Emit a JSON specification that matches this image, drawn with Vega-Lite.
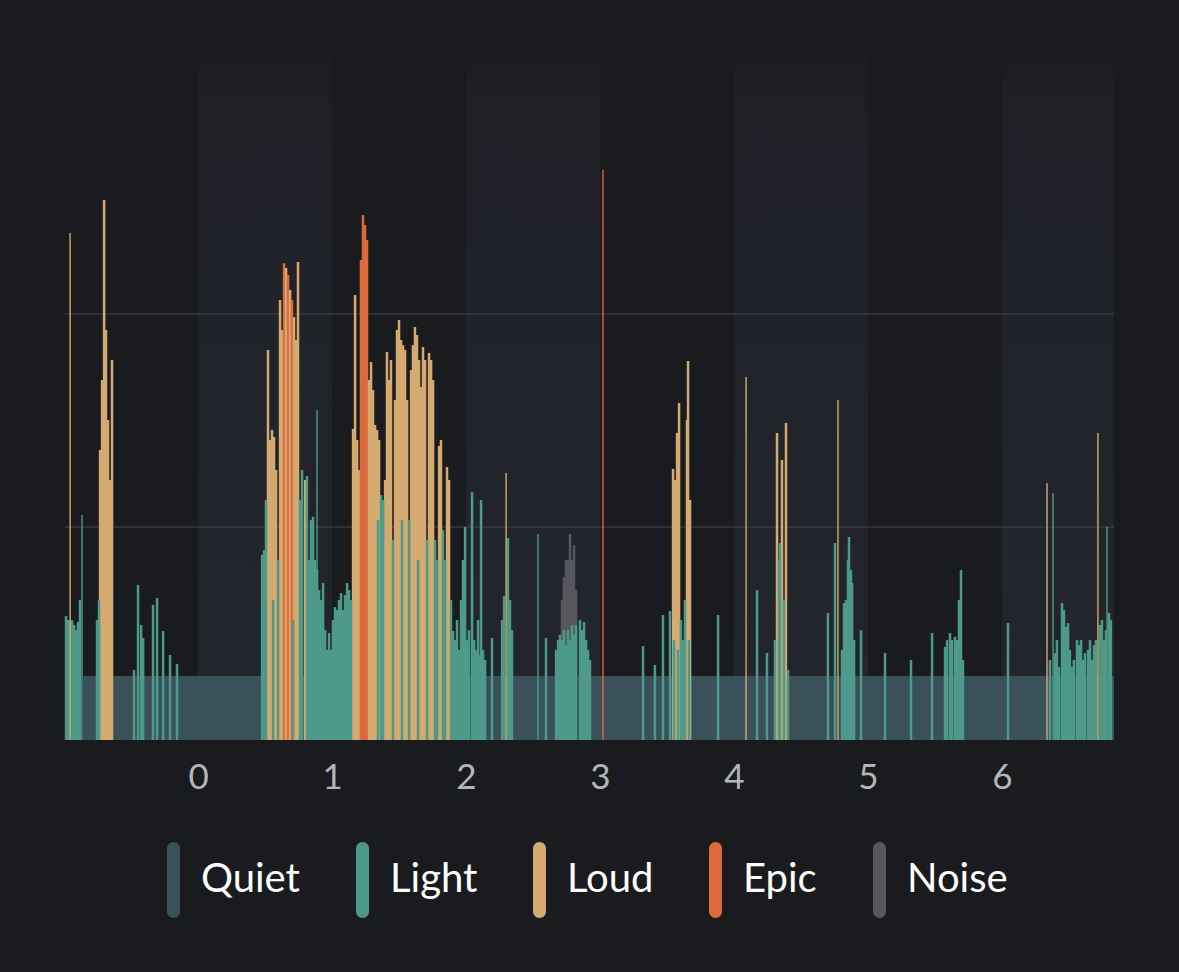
{
  "$schema": "https://vega.github.io/schema/vega-lite/v6.json",
  "width": 1049,
  "height": 702,
  "autosize": {"type": "none"},
  "padding": {"left": 65, "top": 38, "right": 65, "bottom": 232},
  "background": "#1a1b1f",
  "config": {"view": {"stroke": null}, "scale": {"continuousPadding": 0}},
  "datasets": {
    "bands": [
      {"b0": 0, "b1": 1}, {"b0": 2, "b1": 3}, {"b0": 4, "b1": 5}, {"b0": 6, "b1": 6.836}
    ],
    "grid": [{"g": 1}, {"g": 2}],
    "quiet": [{"t0": -0.858, "t1": 6.836, "v": 0.30}],
    "spikes": [
      {"t": -0.955, "v": 2.380, "c": "Loud"},
      {"t": 2.299, "v": 1.254, "c": "Loud"},
      {"t": 4.090, "v": 1.704, "c": "Loud"},
      {"t": 4.776, "v": 1.596, "c": "Loud"},
      {"t": 6.336, "v": 1.207, "c": "Loud"},
      {"t": 6.716, "v": 1.441, "c": "Loud"},
      {"t": 3.022, "v": 2.676, "c": "Epic"},
      {"t": 0.888, "v": 1.549, "c": "Light"},
      {"t": 6.381, "v": 1.160, "c": "Light"},
      {"t": 6.784, "v": 1.000, "c": "Light"},
      {"t": -0.866, "v": 1.056, "c": "Light"},
      {"t": 2.537, "v": 0.967, "c": "Light"}
    ],
    "bars": [
      {"t": -0.731, "v": 1.362, "c": "Loud"},
      {"t": -0.716, "v": 1.690, "c": "Loud"},
      {"t": -0.701, "v": 2.535, "c": "Loud"},
      {"t": -0.687, "v": 1.925, "c": "Loud"},
      {"t": -0.672, "v": 1.502, "c": "Loud"},
      {"t": -0.657, "v": 1.221, "c": "Loud"},
      {"t": -0.642, "v": 1.784, "c": "Loud"},
      {"t": 0.522, "v": 1.831, "c": "Loud"},
      {"t": 0.537, "v": 1.408, "c": "Loud"},
      {"t": 0.552, "v": 1.455, "c": "Loud"},
      {"t": 0.567, "v": 1.423, "c": "Loud"},
      {"t": 0.582, "v": 1.268, "c": "Loud"},
      {"t": 0.612, "v": 2.066, "c": "Loud"},
      {"t": 0.627, "v": 1.925, "c": "Loud"},
      {"t": 0.642, "v": 2.239, "c": "Epic"},
      {"t": 0.657, "v": 2.216, "c": "Loud"},
      {"t": 0.672, "v": 2.183, "c": "Epic"},
      {"t": 0.687, "v": 2.113, "c": "Loud"},
      {"t": 0.701, "v": 2.066, "c": "Epic"},
      {"t": 0.716, "v": 1.986, "c": "Loud"},
      {"t": 0.731, "v": 1.878, "c": "Loud"},
      {"t": 0.746, "v": 2.244, "c": "Loud"},
      {"t": 0.799, "v": 1.221, "c": "Loud"},
      {"t": 1.157, "v": 1.460, "c": "Loud"},
      {"t": 1.172, "v": 2.089, "c": "Loud"},
      {"t": 1.187, "v": 1.408, "c": "Loud"},
      {"t": 1.201, "v": 1.268, "c": "Loud"},
      {"t": 1.216, "v": 2.254, "c": "Epic"},
      {"t": 1.231, "v": 2.465, "c": "Epic"},
      {"t": 1.246, "v": 2.418, "c": "Epic"},
      {"t": 1.261, "v": 2.347, "c": "Epic"},
      {"t": 1.276, "v": 1.690, "c": "Loud"},
      {"t": 1.291, "v": 1.775, "c": "Loud"},
      {"t": 1.306, "v": 1.643, "c": "Loud"},
      {"t": 1.321, "v": 1.479, "c": "Loud"},
      {"t": 1.336, "v": 1.455, "c": "Loud"},
      {"t": 1.351, "v": 1.408, "c": "Loud"},
      {"t": 1.396, "v": 1.221, "c": "Loud"},
      {"t": 1.410, "v": 1.822, "c": "Loud"},
      {"t": 1.425, "v": 1.690, "c": "Loud"},
      {"t": 1.440, "v": 1.784, "c": "Loud"},
      {"t": 1.470, "v": 1.596, "c": "Loud"},
      {"t": 1.485, "v": 1.925, "c": "Loud"},
      {"t": 1.500, "v": 1.972, "c": "Loud"},
      {"t": 1.515, "v": 1.878, "c": "Loud"},
      {"t": 1.530, "v": 1.854, "c": "Loud"},
      {"t": 1.545, "v": 1.831, "c": "Loud"},
      {"t": 1.560, "v": 1.596, "c": "Loud"},
      {"t": 1.590, "v": 1.737, "c": "Loud"},
      {"t": 1.604, "v": 1.854, "c": "Loud"},
      {"t": 1.619, "v": 1.939, "c": "Loud"},
      {"t": 1.634, "v": 1.901, "c": "Loud"},
      {"t": 1.649, "v": 1.784, "c": "Loud"},
      {"t": 1.664, "v": 1.657, "c": "Loud"},
      {"t": 1.679, "v": 1.845, "c": "Loud"},
      {"t": 1.694, "v": 1.784, "c": "Loud"},
      {"t": 1.724, "v": 1.817, "c": "Loud"},
      {"t": 1.739, "v": 1.784, "c": "Loud"},
      {"t": 1.754, "v": 1.690, "c": "Loud"},
      {"t": 1.799, "v": 1.380, "c": "Loud"},
      {"t": 1.813, "v": 1.408, "c": "Loud"},
      {"t": 1.858, "v": 1.282, "c": "Loud"},
      {"t": 1.873, "v": 1.221, "c": "Loud"},
      {"t": 2.716, "v": 0.657, "c": "Noise"},
      {"t": 2.731, "v": 0.765, "c": "Noise"},
      {"t": 2.746, "v": 0.845, "c": "Noise"},
      {"t": 2.761, "v": 0.845, "c": "Noise"},
      {"t": 2.776, "v": 0.967, "c": "Noise"},
      {"t": 2.791, "v": 0.845, "c": "Noise"},
      {"t": 2.806, "v": 0.915, "c": "Noise"},
      {"t": 2.821, "v": 0.704, "c": "Noise"},
      {"t": 3.545, "v": 1.272, "c": "Loud"},
      {"t": 3.560, "v": 1.221, "c": "Loud"},
      {"t": 3.575, "v": 1.441, "c": "Loud"},
      {"t": 3.590, "v": 1.582, "c": "Loud"},
      {"t": 3.649, "v": 1.502, "c": "Loud"},
      {"t": 3.657, "v": 1.779, "c": "Loud"},
      {"t": 3.672, "v": 1.127, "c": "Loud"},
      {"t": 4.321, "v": 1.441, "c": "Loud"},
      {"t": 4.358, "v": 1.315, "c": "Loud"},
      {"t": 4.388, "v": 1.488, "c": "Loud"},
      {"t": -0.985, "v": 0.582, "c": "Light"},
      {"t": -0.970, "v": 0.563, "c": "Light"},
      {"t": -0.955, "v": 0.560, "c": "Light"},
      {"t": -0.940, "v": 0.563, "c": "Light"},
      {"t": -0.925, "v": 0.540, "c": "Light"},
      {"t": -0.910, "v": 0.516, "c": "Light"},
      {"t": -0.896, "v": 0.554, "c": "Light"},
      {"t": -0.881, "v": 0.657, "c": "Light"},
      {"t": -0.754, "v": 0.563, "c": "Light"},
      {"t": -0.739, "v": 0.657, "c": "Light"},
      {"t": -0.478, "v": 0.329, "c": "Light"},
      {"t": -0.448, "v": 0.728, "c": "Light"},
      {"t": -0.425, "v": 0.540, "c": "Light"},
      {"t": -0.410, "v": 0.479, "c": "Light"},
      {"t": -0.336, "v": 0.634, "c": "Light"},
      {"t": -0.306, "v": 0.667, "c": "Light"},
      {"t": -0.261, "v": 0.512, "c": "Light"},
      {"t": -0.209, "v": 0.399, "c": "Light"},
      {"t": -0.157, "v": 0.357, "c": "Light"},
      {"t": 0.478, "v": 0.869, "c": "Light"},
      {"t": 0.493, "v": 0.892, "c": "Light"},
      {"t": 0.507, "v": 1.127, "c": "Light"},
      {"t": 0.560, "v": 0.657, "c": "Light"},
      {"t": 0.597, "v": 0.845, "c": "Light"},
      {"t": 0.709, "v": 0.563, "c": "Light"},
      {"t": 0.761, "v": 1.127, "c": "Light"},
      {"t": 0.776, "v": 1.268, "c": "Light"},
      {"t": 0.813, "v": 1.239, "c": "Light"},
      {"t": 0.828, "v": 0.845, "c": "Light"},
      {"t": 0.843, "v": 1.033, "c": "Light"},
      {"t": 0.858, "v": 1.047, "c": "Light"},
      {"t": 0.873, "v": 0.845, "c": "Light"},
      {"t": 0.888, "v": 0.800, "c": "Light"},
      {"t": 0.903, "v": 0.704, "c": "Light"},
      {"t": 0.918, "v": 0.657, "c": "Light"},
      {"t": 0.933, "v": 0.737, "c": "Light"},
      {"t": 0.948, "v": 0.516, "c": "Light"},
      {"t": 0.963, "v": 0.423, "c": "Light"},
      {"t": 0.978, "v": 0.502, "c": "Light"},
      {"t": 0.993, "v": 0.423, "c": "Light"},
      {"t": 1.007, "v": 0.563, "c": "Light"},
      {"t": 1.022, "v": 0.624, "c": "Light"},
      {"t": 1.037, "v": 0.610, "c": "Light"},
      {"t": 1.052, "v": 0.657, "c": "Light"},
      {"t": 1.067, "v": 0.690, "c": "Light"},
      {"t": 1.082, "v": 0.610, "c": "Light"},
      {"t": 1.097, "v": 0.681, "c": "Light"},
      {"t": 1.112, "v": 0.737, "c": "Light"},
      {"t": 1.127, "v": 0.704, "c": "Light"},
      {"t": 1.142, "v": 0.657, "c": "Light"},
      {"t": 1.343, "v": 1.033, "c": "Light"},
      {"t": 1.366, "v": 1.150, "c": "Light"},
      {"t": 1.381, "v": 1.127, "c": "Light"},
      {"t": 1.455, "v": 0.939, "c": "Light"},
      {"t": 1.522, "v": 1.033, "c": "Light"},
      {"t": 1.575, "v": 1.033, "c": "Light"},
      {"t": 1.642, "v": 0.845, "c": "Light"},
      {"t": 1.709, "v": 0.939, "c": "Light"},
      {"t": 1.769, "v": 0.939, "c": "Light"},
      {"t": 1.784, "v": 0.845, "c": "Light"},
      {"t": 1.828, "v": 0.986, "c": "Light"},
      {"t": 1.843, "v": 0.845, "c": "Light"},
      {"t": 1.888, "v": 0.657, "c": "Light"},
      {"t": 1.903, "v": 0.512, "c": "Light"},
      {"t": 1.918, "v": 0.469, "c": "Light"},
      {"t": 1.933, "v": 0.563, "c": "Light"},
      {"t": 1.948, "v": 0.423, "c": "Light"},
      {"t": 1.963, "v": 0.657, "c": "Light"},
      {"t": 1.978, "v": 0.845, "c": "Light"},
      {"t": 1.993, "v": 1.000, "c": "Light"},
      {"t": 2.007, "v": 0.469, "c": "Light"},
      {"t": 2.022, "v": 0.516, "c": "Light"},
      {"t": 2.045, "v": 1.164, "c": "Light"},
      {"t": 2.060, "v": 0.469, "c": "Light"},
      {"t": 2.075, "v": 0.423, "c": "Light"},
      {"t": 2.090, "v": 0.563, "c": "Light"},
      {"t": 2.104, "v": 0.399, "c": "Light"},
      {"t": 2.112, "v": 1.127, "c": "Light"},
      {"t": 2.127, "v": 0.423, "c": "Light"},
      {"t": 2.142, "v": 0.376, "c": "Light"},
      {"t": 2.194, "v": 0.479, "c": "Light"},
      {"t": 2.269, "v": 0.563, "c": "Light"},
      {"t": 2.284, "v": 0.676, "c": "Light"},
      {"t": 2.313, "v": 0.948, "c": "Light"},
      {"t": 2.328, "v": 0.657, "c": "Light"},
      {"t": 2.343, "v": 0.516, "c": "Light"},
      {"t": 2.597, "v": 0.479, "c": "Light"},
      {"t": 2.672, "v": 0.423, "c": "Light"},
      {"t": 2.687, "v": 0.469, "c": "Light"},
      {"t": 2.701, "v": 0.493, "c": "Light"},
      {"t": 2.716, "v": 0.469, "c": "Light"},
      {"t": 2.731, "v": 0.516, "c": "Light"},
      {"t": 2.746, "v": 0.446, "c": "Light"},
      {"t": 2.761, "v": 0.516, "c": "Light"},
      {"t": 2.776, "v": 0.469, "c": "Light"},
      {"t": 2.791, "v": 0.540, "c": "Light"},
      {"t": 2.806, "v": 0.493, "c": "Light"},
      {"t": 2.821, "v": 0.540, "c": "Light"},
      {"t": 2.851, "v": 0.563, "c": "Light"},
      {"t": 2.866, "v": 0.516, "c": "Light"},
      {"t": 2.881, "v": 0.554, "c": "Light"},
      {"t": 2.896, "v": 0.469, "c": "Light"},
      {"t": 2.910, "v": 0.423, "c": "Light"},
      {"t": 2.925, "v": 0.376, "c": "Light"},
      {"t": 3.321, "v": 0.441, "c": "Light"},
      {"t": 3.410, "v": 0.352, "c": "Light"},
      {"t": 3.470, "v": 0.587, "c": "Light"},
      {"t": 3.522, "v": 0.606, "c": "Light"},
      {"t": 3.552, "v": 0.469, "c": "Light"},
      {"t": 3.582, "v": 0.423, "c": "Light"},
      {"t": 3.604, "v": 0.563, "c": "Light"},
      {"t": 3.619, "v": 0.469, "c": "Light"},
      {"t": 3.634, "v": 0.657, "c": "Light"},
      {"t": 3.664, "v": 0.469, "c": "Light"},
      {"t": 3.881, "v": 0.587, "c": "Light"},
      {"t": 4.172, "v": 0.704, "c": "Light"},
      {"t": 4.246, "v": 0.408, "c": "Light"},
      {"t": 4.306, "v": 0.469, "c": "Light"},
      {"t": 4.336, "v": 0.845, "c": "Light"},
      {"t": 4.343, "v": 0.925, "c": "Light"},
      {"t": 4.373, "v": 0.657, "c": "Light"},
      {"t": 4.403, "v": 0.329, "c": "Light"},
      {"t": 4.701, "v": 0.596, "c": "Light"},
      {"t": 4.754, "v": 0.925, "c": "Light"},
      {"t": 4.806, "v": 0.423, "c": "Light"},
      {"t": 4.821, "v": 0.643, "c": "Light"},
      {"t": 4.836, "v": 0.657, "c": "Light"},
      {"t": 4.851, "v": 0.845, "c": "Light"},
      {"t": 4.858, "v": 0.953, "c": "Light"},
      {"t": 4.873, "v": 0.798, "c": "Light"},
      {"t": 4.881, "v": 0.737, "c": "Light"},
      {"t": 4.896, "v": 0.469, "c": "Light"},
      {"t": 4.948, "v": 0.516, "c": "Light"},
      {"t": 5.127, "v": 0.408, "c": "Light"},
      {"t": 5.321, "v": 0.376, "c": "Light"},
      {"t": 5.478, "v": 0.502, "c": "Light"},
      {"t": 5.575, "v": 0.437, "c": "Light"},
      {"t": 5.590, "v": 0.469, "c": "Light"},
      {"t": 5.612, "v": 0.502, "c": "Light"},
      {"t": 5.627, "v": 0.469, "c": "Light"},
      {"t": 5.649, "v": 0.484, "c": "Light"},
      {"t": 5.664, "v": 0.469, "c": "Light"},
      {"t": 5.679, "v": 0.657, "c": "Light"},
      {"t": 5.694, "v": 0.798, "c": "Light"},
      {"t": 5.709, "v": 0.376, "c": "Light"},
      {"t": 6.045, "v": 0.549, "c": "Light"},
      {"t": 6.358, "v": 0.376, "c": "Light"},
      {"t": 6.396, "v": 0.408, "c": "Light"},
      {"t": 6.410, "v": 0.469, "c": "Light"},
      {"t": 6.425, "v": 0.343, "c": "Light"},
      {"t": 6.448, "v": 0.643, "c": "Light"},
      {"t": 6.463, "v": 0.610, "c": "Light"},
      {"t": 6.478, "v": 0.531, "c": "Light"},
      {"t": 6.493, "v": 0.549, "c": "Light"},
      {"t": 6.507, "v": 0.423, "c": "Light"},
      {"t": 6.522, "v": 0.343, "c": "Light"},
      {"t": 6.537, "v": 0.376, "c": "Light"},
      {"t": 6.560, "v": 0.469, "c": "Light"},
      {"t": 6.575, "v": 0.446, "c": "Light"},
      {"t": 6.590, "v": 0.469, "c": "Light"},
      {"t": 6.604, "v": 0.376, "c": "Light"},
      {"t": 6.619, "v": 0.408, "c": "Light"},
      {"t": 6.642, "v": 0.423, "c": "Light"},
      {"t": 6.657, "v": 0.469, "c": "Light"},
      {"t": 6.672, "v": 0.376, "c": "Light"},
      {"t": 6.687, "v": 0.446, "c": "Light"},
      {"t": 6.701, "v": 0.469, "c": "Light"},
      {"t": 6.731, "v": 0.540, "c": "Light"},
      {"t": 6.746, "v": 0.563, "c": "Light"},
      {"t": 6.761, "v": 0.469, "c": "Light"},
      {"t": 6.776, "v": 0.516, "c": "Light"},
      {"t": 6.799, "v": 0.596, "c": "Light"},
      {"t": 6.813, "v": 0.563, "c": "Light"}
    ]
  },
  "layer": [
    {
      "data": {"name": "bands"},
      "mark": {
        "type": "rect",
        "color": {
          "gradient": "linear", "x1": 0, "y1": 0, "x2": 0, "y2": 1,
          "stops": [
            {"offset": 0, "color": "#1b1c21"},
            {"offset": 0.12, "color": "#1f2127"},
            {"offset": 1, "color": "#23262d"}
          ]
        }
      },
      "encoding": {
        "x": {
          "field": "b0", "type": "quantitative",
          "scale": {"domain": [-0.993, 6.836], "nice": false, "zero": false, "padding": 0},
          "axis": {
            "values": [0, 1, 2, 3, 4, 5, 6], "format": "d", "title": null,
            "domain": false, "ticks": false, "tickSize": 0, "grid": false,
            "labelFont": "Lato", "labelFontSize": 35, "labelColor": "#b4b5b9",
            "labelPadding": 37, "labelBaseline": "middle", "labelFlush": false
          }
        },
        "x2": {"field": "b1"},
        "y": {"datum": 0, "type": "quantitative", "scale": {"domain": [0, 3.296], "nice": false, "padding": 0}, "axis": null},
        "y2": {"datum": 3.296}
      }
    },
    {
      "data": {"name": "grid"},
      "mark": {"type": "rule", "color": "#45474d", "strokeWidth": 1},
      "encoding": {
        "y": {"field": "g", "type": "quantitative", "scale": {"domain": [0, 3.296], "nice": false, "padding": 0}, "axis": null}
      }
    },
    {
      "data": {"name": "quiet"},
      "mark": {"type": "rect", "color": "#3a505b"},
      "encoding": {
        "x": {"field": "t0", "type": "quantitative", "scale": {"domain": [-0.993, 6.836], "nice": false, "zero": false, "padding": 0}},
        "x2": {"field": "t1"},
        "y": {"field": "v", "type": "quantitative", "scale": {"domain": [0, 3.296], "nice": false, "padding": 0}, "axis": null},
        "y2": {"datum": 0}
      }
    },
    {
      "data": {"name": "bars"},
      "mark": {"type": "bar", "width": 2.5, "strokeWidth": 0},
      "encoding": {
        "x": {"field": "t", "type": "quantitative", "scale": {"domain": [-0.993, 6.836], "nice": false, "zero": false, "padding": 0}},
        "y": {"field": "v", "type": "quantitative", "stack": null, "scale": {"domain": [0, 3.296], "nice": false, "padding": 0}, "axis": null},
        "color": {
          "field": "c", "type": "nominal",
          "scale": {
            "domain": ["Quiet", "Light", "Loud", "Epic", "Noise"],
            "range": ["#3a505b", "#4e9a8a", "#d4aa70", "#dc6a3c", "#56585d"]
          },
          "legend": {
            "title": null, "orient": "none", "legendX": 70.5, "legendY": 804,
            "direction": "horizontal", "padding": 0,
            "symbolType": "M-0.171,-0.829A0.171,0.171,0,0,1,0.171,-0.829L0.171,0.829A0.171,0.171,0,0,1,-0.171,0.829Z",
            "symbolSize": 5776, "symbolStrokeWidth": 0, "symbolOpacity": 1,
            "labelFont": "Lato", "labelFontSize": 40, "labelColor": "#ffffff",
            "labelOffset": -10.5, "columnPadding": 24
          }
        }
      }
    },
    {
      "data": {"name": "spikes"},
      "mark": {"type": "rule", "strokeWidth": 1.4},
      "encoding": {
        "x": {"field": "t", "type": "quantitative", "scale": {"domain": [-0.993, 6.836], "nice": false, "zero": false, "padding": 0}},
        "y": {"field": "v", "type": "quantitative", "scale": {"domain": [0, 3.296], "nice": false, "padding": 0}, "axis": null},
        "y2": {"datum": 0},
        "color": {"field": "c", "type": "nominal"}
      }
    }
  ]
}
